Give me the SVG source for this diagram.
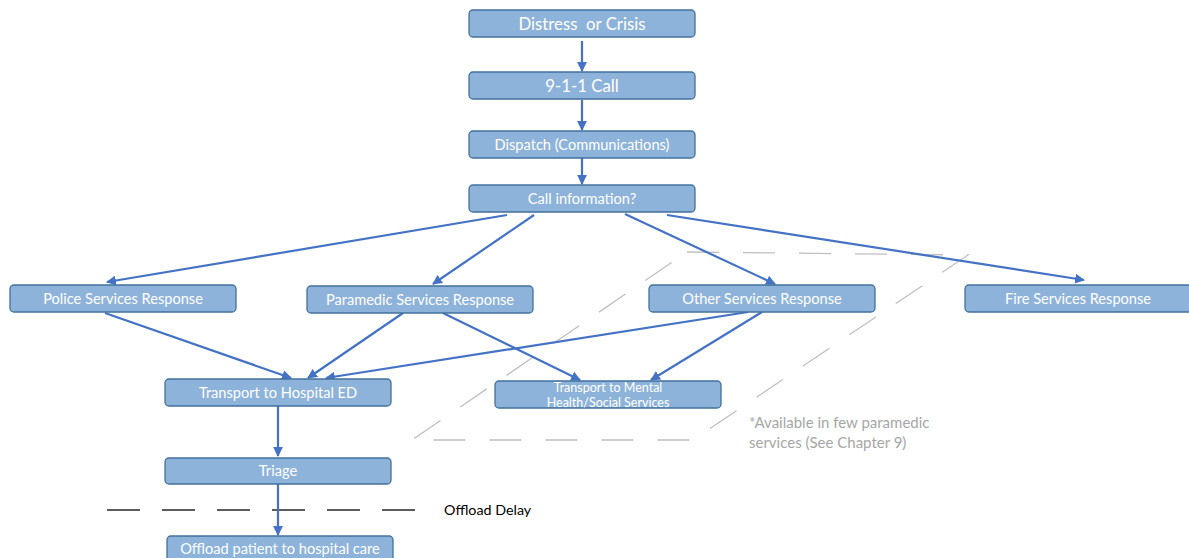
<svg xmlns="http://www.w3.org/2000/svg" width="1189" height="558" viewBox="0 0 1189 558">
<defs>
<style>
.box{fill:#8EB3DA;stroke:#41719C;stroke-width:1.3}
.t{font-family:Lato,"Open Sans",sans-serif;fill:#FFFFFF;text-anchor:middle}
.m{font-size:14.6px}
.c{stroke:#4472C4;stroke-width:2.2;fill:none;marker-end:url(#ah)}
.note{font-family:Lato,"Open Sans",sans-serif;fill:#A6A6A6;font-size:15px}
</style>
<marker id="ah" viewBox="0 0 10 10" refX="9" refY="5" markerWidth="4.5" markerHeight="4.5" orient="auto" markerUnits="strokeWidth">
<path d="M0,0 L10,5 L0,10 Z" fill="#4472C4"/>
</marker>
</defs>
<rect width="1189" height="558" fill="#FFFFFF"/>
<g id="availability-region">
<polygon points="687,252 968,255 693,440 412,440" fill="none" stroke="#BFBFBF" stroke-width="1.3" stroke-dasharray="32 24"/>
<text class="note" x="749" y="428">*Available in few paramedic</text>
<text class="note" x="749" y="448">services (See Chapter 9)</text>
</g>
<g id="offload-delay">
<line x1="107" y1="510" x2="434" y2="510" stroke="#262626" stroke-width="1.5" stroke-dasharray="33 22"/>
<text x="444" y="515" font-family="Lato,'Open Sans',sans-serif" font-size="14.3" fill="#000000">Offload Delay</text>
</g>
<g id="connectors">
<line class="c" x1="582" y1="41" x2="582" y2="71"/>
<line class="c" x1="582" y1="100" x2="582" y2="130"/>
<line class="c" x1="582" y1="158" x2="582" y2="184"/>
<line class="c" x1="507" y1="215" x2="107" y2="282"/>
<line class="c" x1="534" y1="215" x2="433" y2="284"/>
<line class="c" x1="625" y1="214" x2="775" y2="284"/>
<line class="c" x1="667" y1="215" x2="1084" y2="280"/>
<line class="c" x1="105" y1="313" x2="291" y2="378"/>
<line class="c" x1="403" y1="313" x2="308" y2="378"/>
<line class="c" x1="443" y1="313" x2="580" y2="380"/>
<line class="c" x1="748" y1="312" x2="326" y2="378"/>
<line class="c" x1="762" y1="312" x2="651" y2="380"/>
<line class="c" x1="278" y1="406" x2="278" y2="456"/>
<line class="c" x1="278" y1="484" x2="278" y2="535"/>
</g>
<g id="distress">
<rect class="box" x="469" y="10" width="226" height="27" rx="4"/>
<text class="t" x="582" y="29.5" font-size="16.8">Distress&#160; or Crisis</text>
</g>
<g id="call911">
<rect class="box" x="469" y="72" width="226" height="27" rx="4"/>
<text class="t" x="582" y="91.5" font-size="16.8">9-1-1 Call</text>
</g>
<g id="dispatch">
<rect class="box" x="469" y="131" width="226" height="27" rx="4"/>
<text class="t m" x="582" y="149.5">Dispatch (Communications)</text>
</g>
<g id="callinfo">
<rect class="box" x="469" y="185" width="226" height="27" rx="4"/>
<text class="t m" x="582" y="203.5">Call information?</text>
</g>
<g id="police">
<rect class="box" x="10" y="285" width="226" height="27" rx="4"/>
<text class="t m" x="123" y="303.5">Police Services Response</text>
</g>
<g id="paramedic">
<rect class="box" x="307" y="286" width="226" height="27" rx="4"/>
<text class="t m" x="420" y="304.5">Paramedic Services Response</text>
</g>
<g id="other">
<rect class="box" x="649" y="285" width="226" height="27" rx="4"/>
<text class="t m" x="762" y="303.5">Other Services Response</text>
</g>
<g id="fire">
<rect class="box" x="965" y="285" width="240" height="27" rx="4"/>
<text class="t m" x="1078" y="303.5">Fire Services Response</text>
</g>
<g id="hospital">
<rect class="box" x="165" y="379" width="226" height="27" rx="4"/>
<text class="t m" x="278" y="397.5">Transport to Hospital ED</text>
</g>
<g id="mental">
<rect class="box" x="495" y="381" width="226" height="27" rx="4"/>
<text class="t" x="608" y="391.5" font-size="12.5">Transport to Mental</text>
<text class="t" x="608" y="407" font-size="12.5">Health/Social Services</text>
</g>
<g id="triage">
<rect class="box" x="165" y="458" width="226" height="26" rx="4"/>
<text class="t m" x="278" y="476">Triage</text>
</g>
<g id="offload">
<rect class="box" x="167" y="536" width="226" height="27" rx="4"/>
<text class="t m" x="280" y="554">Offload patient to hospital care</text>
</g>
</svg>
